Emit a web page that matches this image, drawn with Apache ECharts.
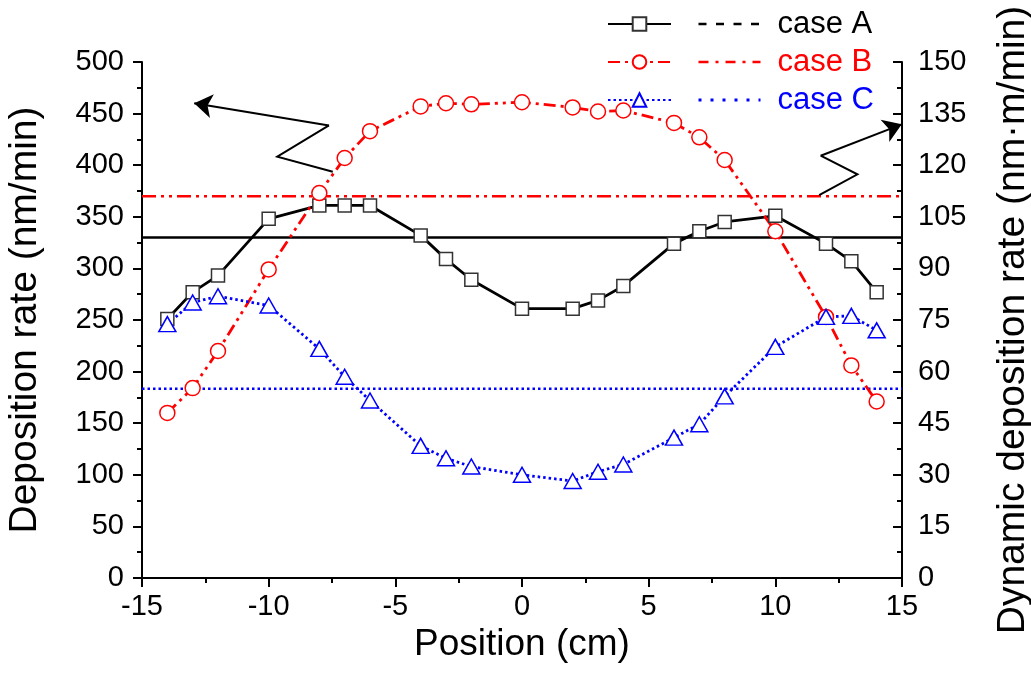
<!DOCTYPE html>
<html>
<head>
<meta charset="utf-8">
<script src="https://cdn.jsdelivr.net/npm/echarts@6/dist/echarts.min.js"></script>
<style>
html, body { margin: 0; padding: 0; background: #fff; }
#chart { width: 1031px; height: 677px; }
</style>
</head>
<body>
<div id="chart"></div>
<script>
// positions along the substrate (cm)
const positions = [-14, -13, -12, -10, -8, -7, -6, -4, -3, -2, 0, 2, 3, 4, 6, 7, 8, 10, 12, 13, 14];
// deposition rate, nm/min (left axis)
const rateA = [251, 277, 293, 348, 361, 361, 361, 332, 309, 289, 261, 261, 269, 283, 324, 336, 345, 351, 324, 307, 277];
const rateB = [160, 184, 220, 299, 373, 407, 433, 457, 460, 459, 461, 456, 452, 453, 441, 427, 405, 336, 253, 206, 171];
const rateC = [246, 267, 273, 264, 222, 195, 172, 128, 116, 108, 100, 94, 103, 110, 136, 149, 176, 224, 253, 254, 240];
// dynamic deposition rate, nm·m/min (right axis)
const dynamicA = 99;
const dynamicB = 111;
const dynamicC = 55;
const xRange = [-15, 15];
// annotation arrows, in data units of the left axis
const arrowLeft = [[-7.47, 393.7], [-9.66, 408.2], [-7.62, 438.5], [-12.94, 460]];
const arrowRight = [[11.73, 371], [13.24, 391.2], [11.79, 409.2], [14.99, 439.6]];

const FONT = '"Liberation Sans", Arial, sans-serif';
const pairs = (ys) => positions.map((x, i) => [x, ys[i]]);
const flat = (v) => xRange.map((x) => [x, v]);

const chart = echarts.init(document.getElementById('chart'));

const axisCommon = {
  type: 'value',
  nameLocation: 'middle',
  nameTextStyle: { fontSize: 39, color: '#000', fontFamily: FONT },
  axisLine: { show: true, onZero: false, lineStyle: { color: '#000', width: 2 } },
  axisTick: { show: true, length: 9, lineStyle: { color: '#000', width: 2 } },
  minorTick: { show: true, splitNumber: 2, length: 5, lineStyle: { color: '#000', width: 2 } },
  axisLabel: { fontSize: 29, color: '#000', fontFamily: FONT },
  splitLine: { show: false },
  minorSplitLine: { show: false },
};

const hollow = (color) => ({ color: '#fff', borderColor: color, borderWidth: 1.5, opacity: 1 });
const hidden = { color: 'rgba(0,0,0,0)', borderColor: 'rgba(0,0,0,0)', borderWidth: 0 };

// zig-zag part of each arrow, and its last segment carrying the head
const zigzag = (pts) => ({ coords: pts.slice(0, -1) });
const head = (pts) => ({ coords: pts.slice(-2) });

chart.setOption({
  animation: false,
  backgroundColor: '#fff',
  grid: { left: 142, right: 129, top: 62, bottom: 99, containLabel: false, outerBoundsMode: 'none' },
  legend: [
    {
      orient: 'vertical',
      left: 602,
      top: 3,
      itemWidth: 63,
      itemHeight: 17,
      itemGap: 6,
      selectedMode: false,
      formatter: () => ' ',
      textStyle: { fontSize: 31, lineHeight: 32, fontFamily: FONT },
      data: [
        { name: 'A' },
        { name: 'B', lineStyle: { type: [12, 5, 3, 5] } },
        { name: 'C' },
      ],
    },
    {
      orient: 'vertical',
      left: 692,
      top: 3,
      itemWidth: 62,
      itemHeight: 17,
      itemGap: 6,
      selectedMode: false,
      itemStyle: hidden,
      textStyle: { fontSize: 31, lineHeight: 32, fontFamily: FONT, padding: [0, 0, 0, 12] },
      data: [
        { name: 'case A', textStyle: { color: '#000' }, lineStyle: { type: [8, 9.5], width: 2.5 } },
        { name: 'case B', textStyle: { color: '#ff0000' }, lineStyle: { type: [10, 7, 3, 7], width: 2.5 } },
        { name: 'case C', textStyle: { color: '#0000ff' }, lineStyle: { type: [3, 9], width: 3 } },
      ],
    },
  ],
  xAxis: Object.assign({}, axisCommon, {
    min: xRange[0],
    max: xRange[1],
    interval: 5,
    name: 'Position (cm)',
    nameGap: 37,
    nameTextStyle: Object.assign({}, axisCommon.nameTextStyle, { fontSize: 37 }),
    axisLabel: Object.assign({}, axisCommon.axisLabel, { margin: 14 }),
  }),
  yAxis: [
    Object.assign({}, axisCommon, {
      position: 'left',
      min: 0,
      max: 500,
      interval: 50,
      name: 'Deposition rate (nm/min)',
      nameRotate: 90,
      nameGap: 97,
      axisLabel: Object.assign({}, axisCommon.axisLabel, { margin: 18 }),
    }),
    Object.assign({}, axisCommon, {
      position: 'right',
      min: 0,
      max: 150,
      interval: 15,
      name: 'Dynamic deposition rate (nm·m/min)',
      nameRotate: 90,
      nameGap: 92,
      axisTick: Object.assign({}, axisCommon.axisTick, { inside: true }),
      axisLabel: Object.assign({}, axisCommon.axisLabel, { margin: 16 }),
    }),
  ],
  series: [
    {
      name: 'case A', type: 'line', yAxisIndex: 1, data: flat(dynamicA),
      symbol: 'none', color: '#000', lineStyle: { color: '#000', width: 2.5 }, z: 1,
    },
    {
      name: 'case B', type: 'line', yAxisIndex: 1, data: flat(dynamicB),
      symbol: 'none', color: '#ff0000', lineStyle: { color: '#ff0000', width: 2.5, type: [14, 5, 3, 5, 3, 5] }, z: 1,
    },
    {
      name: 'case C', type: 'line', yAxisIndex: 1, data: flat(dynamicC),
      symbol: 'none', color: '#0000ff', lineStyle: { color: '#0000ff', width: 2.5, type: [2.5, 3] }, z: 1,
    },
    {
      name: 'A', type: 'line', data: pairs(rateA), color: '#000',
      symbol: 'rect', symbolSize: 13,
      itemStyle: hollow('#333'),
      lineStyle: { color: '#000', width: 2.8 }, z: 3,
    },
    {
      name: 'B', type: 'line', data: pairs(rateB), color: '#ff0000',
      symbol: 'circle', symbolSize: 15,
      itemStyle: hollow('#ff0000'),
      lineStyle: { color: '#ff0000', width: 2.8, type: [12, 5, 3, 5, 3, 5] }, z: 3,
    },
    {
      name: 'C', type: 'line', data: pairs(rateC), color: '#0000ff',
      symbol: 'triangle', symbolSize: [17, 15],
      itemStyle: hollow('#0000ff'),
      lineStyle: { color: '#0000ff', width: 2.8, type: [2.5, 3] }, z: 3,
    },
    {
      name: 'arrow paths', type: 'lines', coordinateSystem: 'cartesian2d', polyline: true,
      silent: true, symbol: 'none',
      lineStyle: { color: '#000', width: 2, opacity: 1 },
      data: [zigzag(arrowLeft), zigzag(arrowRight)], z: 4,
    },
    {
      name: 'arrow heads', type: 'lines', coordinateSystem: 'cartesian2d',
      silent: true, symbol: ['none', 'arrow'], symbolSize: [9, 18],
      lineStyle: { color: '#000', width: 2, opacity: 1, curveness: 0 },
      data: [head(arrowLeft), head(arrowRight)], z: 4,
    },
  ],
});
</script>
</body>
</html>
